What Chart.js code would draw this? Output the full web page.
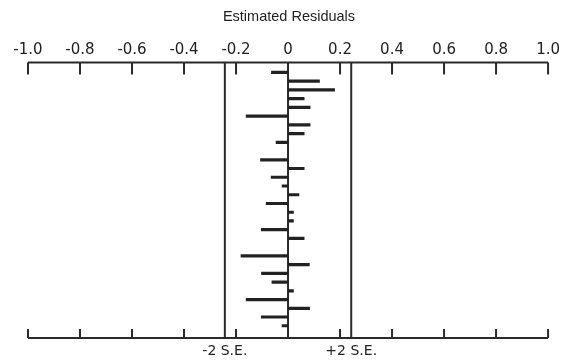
<!DOCTYPE html>
<html>
<head>
<meta charset="utf-8">
<title>Estimated Residuals</title>
<script src="https://cdn.jsdelivr.net/npm/chart.js@4"></script>
<style>
    body { margin: 0; background: #ffffff; }
    #wrap { width: 563px; height: 362px; }
</style>
</head>
<body>
<div id="wrap"><canvas id="residuos"></canvas></div>
<script>
// observações, de cima para baixo
const observations = [1, 2, 3, 4, 5, 6, 7, 8, 9, 10, 11, 12, 13, 14, 15,
    16, 17, 18, 19, 20, 21, 22, 23, 24, 25, 26, 27, 28, 29, 30];

// resíduos estimados (null = sem valor)
const residuals = [-0.064, 0.121, 0.179, 0.062, 0.085, -0.161, 0.085, 0.062, -0.046, null,
    -0.106, 0.062, -0.065, -0.023, 0.042, -0.084, 0.021, 0.021, -0.103, 0.062,
    null, -0.181, 0.082, -0.102, -0.062, 0.021, -0.161, 0.083, -0.103, -0.023];

const tickValues = [-1.0, -0.8, -0.6, -0.4, -0.2, 0, 0.2, 0.4, 0.6, 0.8, 1.0];
const tickLabels = ['-1.0', '-0.8', '-0.6', '-0.4', '-0.2', '0', '0.2', '0.4', '0.6', '0.8', '1.0'];

// limites de dois erros padrão
const seLimits = [-0.243, 0.243];
const seLabels = ['-2 S.E.', '+2 S.E.'];

const inkColor = '#222222';
const fontFamily = "'DejaVu Sans', sans-serif";

// linhas dos eixos (marcas para dentro), linha do zero e limites ±2 S.E.
const frameLines = {
    id: 'frameLines',
    beforeDatasetsDraw(chart) {
        const { ctx, chartArea: { top, bottom }, scales: { x } } = chart;
        const left = x.getPixelForValue(tickValues[0]);
        const right = x.getPixelForValue(tickValues[tickValues.length - 1]);
        ctx.save();
        ctx.strokeStyle = '#2a2a2a';
        ctx.lineWidth = 2;
        ctx.beginPath();
        ctx.moveTo(left, top);
        ctx.lineTo(right, top);
        ctx.moveTo(left, bottom);
        ctx.lineTo(right, bottom);
        tickValues.forEach(v => {
            const px = x.getPixelForValue(v);
            ctx.moveTo(px, top);
            ctx.lineTo(px, top + 12);
            ctx.moveTo(px, bottom);
            ctx.lineTo(px, bottom - 9);
        });
        [0, ...seLimits].forEach(v => {
            const px = x.getPixelForValue(v);
            ctx.moveTo(px, top);
            ctx.lineTo(px, bottom);
        });
        ctx.stroke();
        ctx.restore();
    },
    // os rótulos dos eixos são desenhados depois das barras (z: 1), com espaçamento
    afterDatasetsDraw(chart) {
        chart.ctx.letterSpacing = '1.5px';
    },
    afterDraw(chart) {
        chart.ctx.letterSpacing = '0px';
    }
};

const ctx = document.getElementById('residuos').getContext('2d');

new Chart(ctx, {
    type: 'bar',
    data: {
        datasets: [{
            data: observations.map((obs, i) => ({ x: residuals[i], y: obs })),
            backgroundColor: inkColor,
            borderWidth: 0,
            barThickness: 2.5
        }]
    },
    options: {
        indexAxis: 'y',
        responsive: true,
        maintainAspectRatio: false,
        animation: false,
        layout: {
            padding: { left: 28, right: 13, top: 0, bottom: 0 }
        },
        plugins: {
            legend: { display: false },
            tooltip: { enabled: false },
            title: {
                display: true,
                text: 'Estimated Residuals',
                color: inkColor,
                font: { family: "'Liberation Sans', sans-serif", size: 14.5, weight: 'normal' },
                padding: { top: 8, bottom: 9 }
            }
        },
        scales: {
            x: {
                type: 'linear',
                position: 'top',
                min: -1,
                max: 1,
                z: 1,
                grid: { display: false, drawTicks: false },
                border: { display: false },
                afterBuildTicks: scale => {
                    scale.ticks = tickValues.map(v => ({ value: v }));
                },
                afterFit: scale => { scale.height = 28; },
                ticks: {
                    color: inkColor,
                    font: { family: fontFamily, size: 15 },
                    padding: 3,
                    maxRotation: 0,
                    autoSkip: false,
                    callback: (value, index) => tickLabels[index]
                }
            },
            x2: {
                type: 'linear',
                axis: 'x',
                position: 'bottom',
                min: -1,
                max: 1,
                z: 1,
                grid: { display: false, drawTicks: false },
                border: { display: false },
                afterBuildTicks: scale => {
                    scale.ticks = seLimits.map(v => ({ value: v }));
                },
                afterFit: scale => { scale.height = 24; },
                ticks: {
                    color: inkColor,
                    font: { family: fontFamily, size: 14 },
                    padding: 5,
                    maxRotation: 0,
                    autoSkip: false,
                    callback: (value, index) => seLabels[index]
                }
            },
            y: {
                type: 'linear',
                reverse: true,
                offset: false,
                min: -0.15,
                max: 31.4,
                display: false
            }
        }
    },
    plugins: [frameLines]
});
</script>
</body>
</html>
